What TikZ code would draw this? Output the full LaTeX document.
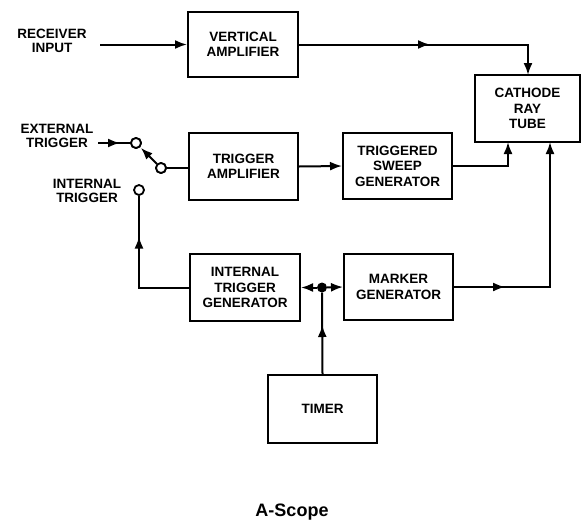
\documentclass[tikz,border=0pt]{standalone}
\usepackage{fontspec}
\setmainfont{Liberation Sans}
\usetikzlibrary{arrows.meta,decorations.markings,calc}
\begin{document}
\begin{tikzpicture}[x=1pt,y=-1pt,
  arr/.tip={Latex[length=12pt,width=9pt]},
  conn/.style={line width=2pt,-arr},
  plain/.style={line width=2pt},
  midarr/.style={postaction={decorate,decoration={markings,mark=at position #1 with {\arrow{arr}}}}},
  blk/.style={draw,line width=2pt,align=center,font=\fontsize{13.5}{15.5}\selectfont\bfseries,inner sep=0pt},
  lbl/.style={align=center,font=\fontsize{13.5}{13.5}\selectfont\bfseries,inner sep=0pt},
  sw/.style={circle,draw,line width=1.8pt,minimum size=10pt,inner sep=0pt,fill=white},
  dot/.style={circle,fill,minimum size=10pt,inner sep=0pt}]
\useasboundingbox (0,0) rectangle (585,530);
% blocks
\node[blk,minimum width=110pt,minimum height=65pt] (VA) at (243,44.5) {VERTICAL\\AMPLIFIER};
\node[blk,minimum width=105pt,minimum height=67pt] (CRT) at (527.5,108.5) {CATHODE\\RAY\\TUBE};
\node[blk,minimum width=109pt,minimum height=67pt] (TA) at (243.5,166.5) {TRIGGER\\AMPLIFIER};
\node[blk,minimum width=109pt,minimum height=66pt] (TSG) at (397.5,166) {TRIGGERED\\SWEEP\\GENERATOR};
\node[blk,minimum width=110pt,minimum height=67pt] (ITG) at (245,287.5) {INTERNAL\\TRIGGER\\GENERATOR};
\node[blk,minimum width=109pt,minimum height=66pt] (MG) at (398.5,287) {MARKER\\GENERATOR};
\node[blk,minimum width=109pt,minimum height=68pt] (TIM) at (322.5,409) {TIMER};
% labels
\node[lbl] (RI) at (52,41) {RECEIVER\\INPUT};
\node[lbl] (ET) at (57,136) {EXTERNAL\\TRIGGER};
\node[lbl] (IT) at (87,191) {INTERNAL\\TRIGGER};
\node[font=\fontsize{18}{20}\selectfont\bfseries] (CAP) at (292,512) {A-Scope};
% switch contacts
\node[sw] (C1) at (136,143) {};
\node[sw] (C2) at (161,168) {};
\node[sw] (C3) at (139,190) {};
\node[dot] (J) at (322,287.5) {};
% coordinates
\coordinate (RIin) at (100,44.5);
\coordinate (ETin) at (98,143);
\coordinate (CRTa) at (508,142);
\coordinate (CRTb) at (550,142);
\coordinate (CRTt) at (528,75);
% connectors
\draw[conn] (RIin) -- (VA.west);
\draw[conn,midarr=131pt] (VA.east) -| (CRTt);
\draw[plain,midarr=22pt] (ETin) -- (C1.west);
\draw[conn,shorten >=1pt] (C2) -- (C1);
\node[sw] at (C2) {};
\node[sw] at (C1) {};
\draw[plain] (C2.east) -- (C2.east -| TA.west);
\draw[conn] (TA.east) -- (TSG.west);
\draw[conn] (TSG.east) -| (CRTa);
\draw[conn,midarr=51pt] (MG.east) -| (CRTb);
\draw[plain,midarr=101pt] (ITG.west) -| (C3.south);
\draw[conn] (J) -- (ITG.east);
\draw[conn] (J) -- (MG.west);
\draw[plain,midarr=49pt] (TIM.north) -- (J);
\end{tikzpicture}
\end{document}
